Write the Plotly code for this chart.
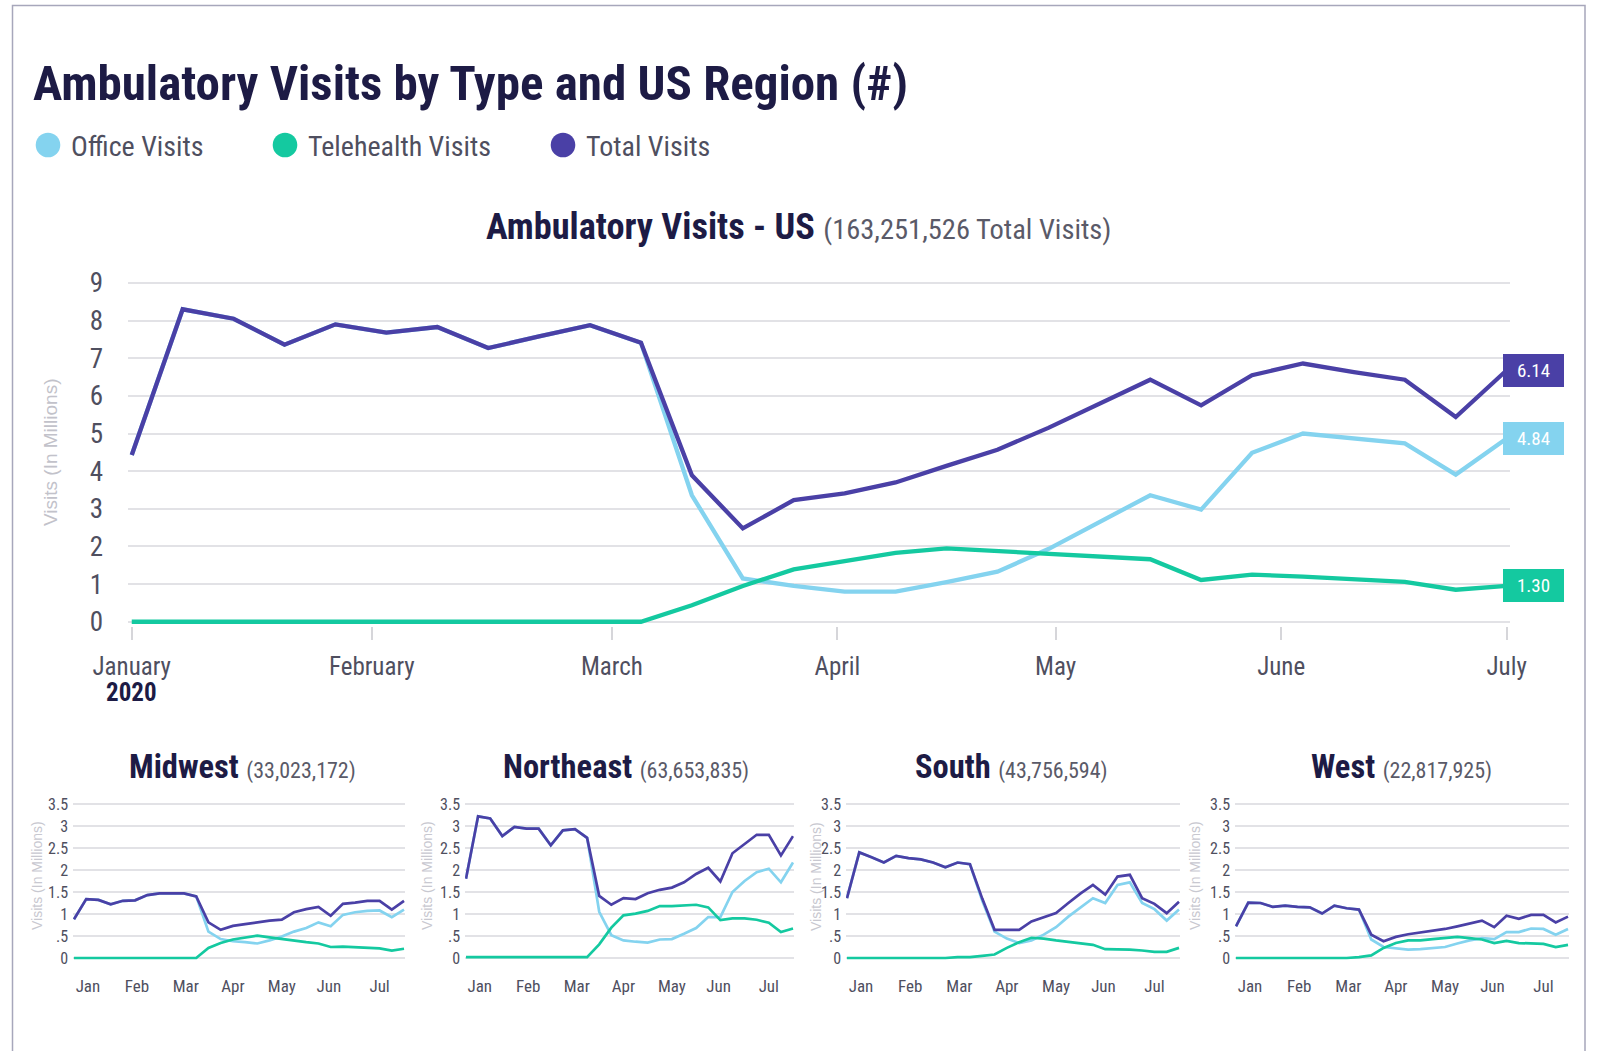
import plotly.graph_objects as go

# ---------------- data ----------------
WEEKS = ["2019-12-29", "2020-01-05", "2020-01-12", "2020-01-19", "2020-01-26",
         "2020-02-02", "2020-02-09", "2020-02-16", "2020-02-23", "2020-03-01",
         "2020-03-08", "2020-03-15", "2020-03-22", "2020-03-29", "2020-04-05",
         "2020-04-12", "2020-04-19", "2020-04-26", "2020-05-03", "2020-05-10",
         "2020-05-17", "2020-05-24", "2020-05-31", "2020-06-07", "2020-06-14",
         "2020-06-21", "2020-06-28", "2020-07-05"]

US_TOTAL = [4.43, 8.30, 8.05, 7.36, 7.90, 7.68, 7.83, 7.27, 7.58, 7.88, 7.41, 3.89, 2.48, 3.23,
            3.41, 3.70, 4.14, 4.57, 5.15, 5.79, 6.43, 5.75, 6.55, 6.86, 6.63, 6.43, 5.44, 6.68]
US_OFFICE = [4.43, 8.30, 8.05, 7.36, 7.90, 7.68, 7.83, 7.27, 7.58, 7.88, 7.41, 3.36, 1.15, 0.95,
             0.80, 0.80, 1.05, 1.33, 1.93, 2.64, 3.36, 2.98, 4.49, 5.00, 4.86, 4.74, 3.91, 4.87]
US_TELE = [0, 0, 0, 0, 0, 0, 0, 0, 0, 0, 0, 0.44, 0.95, 1.39,
           1.61, 1.83, 1.95, 1.88, 1.80, 1.74, 1.66, 1.11, 1.25, 1.20, 1.13, 1.06, 0.85, 0.95]
US_END_LABELS = ["6.14", "4.84", "1.30"]

REGIONS = ["Midwest", "Northeast", "South", "West"]
REGION_COUNTS = ["(33,023,172)", "(63,653,835)", "(43,756,594)", "(22,817,925)"]

MW_TOTAL = [0.88, 1.34, 1.32, 1.22, 1.30, 1.31, 1.43, 1.47, 1.47, 1.47, 1.40, 0.81, 0.64, 0.73,
            0.77, 0.81, 0.85, 0.87, 1.04, 1.11, 1.16, 0.96, 1.23, 1.26, 1.30, 1.30, 1.10, 1.30]
MW_OFFICE = [0.88, 1.34, 1.32, 1.22, 1.30, 1.31, 1.43, 1.47, 1.47, 1.47, 1.40, 0.60, 0.43, 0.38,
             0.36, 0.33, 0.40, 0.49, 0.60, 0.68, 0.81, 0.72, 0.98, 1.04, 1.07, 1.08, 0.93, 1.10]
MW_TELE = [0, 0, 0, 0, 0, 0, 0, 0, 0, 0, 0, 0.23, 0.34, 0.42,
           0.46, 0.51, 0.47, 0.43, 0.39, 0.36, 0.33, 0.25, 0.26, 0.25, 0.23, 0.22, 0.17, 0.21]

NE_TOTAL = [1.80, 3.22, 3.17, 2.77, 2.98, 2.94, 2.94, 2.56, 2.90, 2.93, 2.73, 1.41, 1.21, 1.36,
            1.34, 1.47, 1.55, 1.60, 1.72, 1.91, 2.05, 1.74, 2.38, 2.60, 2.80, 2.80, 2.33, 2.77]
NE_OFFICE = [1.80, 3.22, 3.17, 2.77, 2.98, 2.94, 2.94, 2.56, 2.90, 2.93, 2.73, 1.05, 0.52, 0.40,
             0.37, 0.35, 0.42, 0.43, 0.55, 0.68, 0.93, 0.93, 1.50, 1.75, 1.95, 2.03, 1.72, 2.17]
NE_TELE = [0.02, 0.02, 0.02, 0.02, 0.02, 0.02, 0.02, 0.02, 0.02, 0.02, 0.02, 0.31, 0.69, 0.97,
           1.01, 1.07, 1.18, 1.18, 1.20, 1.21, 1.15, 0.86, 0.90, 0.90, 0.87, 0.80, 0.59, 0.67]

SO_TOTAL = [1.36, 2.40, 2.29, 2.17, 2.32, 2.27, 2.24, 2.17, 2.06, 2.17, 2.13, 1.35, 0.64, 0.64,
            0.64, 0.83, 0.93, 1.02, 1.25, 1.47, 1.66, 1.44, 1.85, 1.89, 1.36, 1.23, 1.02, 1.28]
SO_OFFICE = [1.36, 2.40, 2.29, 2.17, 2.32, 2.27, 2.24, 2.17, 2.06, 2.17, 2.13, 1.30, 0.60, 0.44,
             0.34, 0.40, 0.53, 0.70, 0.94, 1.16, 1.36, 1.25, 1.66, 1.72, 1.25, 1.11, 0.85, 1.10]
SO_TELE = [0, 0, 0, 0, 0, 0, 0, 0, 0, 0.02, 0.02, 0.05, 0.08, 0.23,
           0.36, 0.46, 0.44, 0.40, 0.37, 0.34, 0.30, 0.20, 0.20, 0.19, 0.17, 0.14, 0.14, 0.23]

WE_TOTAL = [0.72, 1.26, 1.25, 1.16, 1.19, 1.16, 1.15, 1.01, 1.19, 1.13, 1.10, 0.53, 0.38, 0.48,
            0.54, 0.58, 0.62, 0.66, 0.72, 0.79, 0.85, 0.70, 0.96, 0.89, 0.98, 0.98, 0.81, 0.94]
WE_OFFICE = [0.72, 1.26, 1.25, 1.16, 1.19, 1.16, 1.15, 1.01, 1.19, 1.13, 1.10, 0.42, 0.25, 0.22,
             0.19, 0.20, 0.23, 0.25, 0.33, 0.40, 0.45, 0.43, 0.59, 0.59, 0.67, 0.66, 0.53, 0.66]
WE_TELE = [0, 0, 0, 0, 0, 0, 0, 0, 0, 0, 0.02, 0.06, 0.23, 0.34,
           0.40, 0.40, 0.43, 0.45, 0.48, 0.45, 0.42, 0.34, 0.39, 0.34, 0.33, 0.32, 0.25, 0.30]

MAIN_TICK_DATES = ["2019-12-29", "2020-01-31", "2020-03-04", "2020-04-04",
                   "2020-05-04", "2020-06-04", "2020-07-05"]
MAIN_TICK_TEXT = ["January", "February", "March", "April", "May", "June", "July"]
SMALL_TICK_DATES = ["2020-01-06", "2020-02-03", "2020-03-02", "2020-03-29",
                    "2020-04-26", "2020-05-23", "2020-06-21"]
SMALL_TICK_TEXT = ["Jan", "Feb", "Mar", "Apr", "May", "Jun", "Jul"]
MAIN_Y_TICKS = [0, 1, 2, 3, 4, 5, 6, 7, 8, 9]
SMALL_Y_TICKS = [0, 0.5, 1, 1.5, 2, 2.5, 3, 3.5]
SMALL_Y_TEXT = ["0", ".5", "1", "1.5", "2", "2.5", "3", "3.5"]

SERIES_NAMES = ["Office Visits", "Telehealth Visits", "Total Visits"]

# ---------------- style ----------------
W, H = 1598, 1051
C_OFFICE = "#84d3ef"
C_TELE = "#14c9a0"
C_TOTAL = "#4a40a6"
C_NAVY = "#1d1b45"
C_TEXT = "#4f4f5f"
C_GRID = "#e2e2e6"
FONT = "Liberation Sans Narrow, Roboto Condensed, Arial Narrow, DejaVu Sans Condensed, Roboto, sans-serif"
FONT_REG = "Liberation Sans, Arial, Roboto, sans-serif"
COLORS = [C_OFFICE, C_TELE, C_TOTAL]


def px_x(x):
    return x / W


def px_y(y):
    return 1 - y / H


X_RANGE = ["2019-12-28 12:00", "2020-07-05 12:00"]

fig = go.Figure()

# main chart
for name, vals, col in zip(SERIES_NAMES, [US_OFFICE, US_TELE, US_TOTAL], COLORS):
    fig.add_trace(go.Scatter(x=WEEKS, y=vals, name=name, mode="lines",
                             line=dict(color=col, width=4.3), xaxis="x", yaxis="y",
                             hoverinfo="skip"))

# small multiples
region_data = [(MW_OFFICE, MW_TELE, MW_TOTAL), (NE_OFFICE, NE_TELE, NE_TOTAL),
               (SO_OFFICE, SO_TELE, SO_TOTAL), (WE_OFFICE, WE_TELE, WE_TOTAL)]
for i, series in enumerate(region_data):
    ax = str(i + 2)
    for name, vals, col in zip(SERIES_NAMES, series, COLORS):
        fig.add_trace(go.Scatter(x=WEEKS, y=vals, name=name, mode="lines",
                                 line=dict(color=col, width=2.7), xaxis="x" + ax,
                                 yaxis="y" + ax, hoverinfo="skip", showlegend=False))

layout = dict(
    width=W, height=H, margin=dict(l=0, r=0, t=0, b=0, autoexpand=False),
    paper_bgcolor="white", plot_bgcolor="white", showlegend=False,
    xaxis=dict(type="date", range=X_RANGE, domain=[px_x(128.1), px_x(1510.3)],
               tickmode="array", tickvals=MAIN_TICK_DATES, ticktext=MAIN_TICK_TEXT,
               ticks="outside", ticklen=13, tickwidth=2, tickcolor="#d6d6da",
               showgrid=False, zeroline=False, showline=False, automargin=False,
               tickfont=dict(family=FONT, size=25, color=C_TEXT),
               ticklabelstandoff=5, anchor="y", fixedrange=True),
    yaxis=dict(range=[-0.1, 9.1], domain=[px_y(625.5), px_y(279.2)],
               tickmode="array", tickvals=MAIN_Y_TICKS, showgrid=True,
               gridcolor=C_GRID, gridwidth=2, zeroline=False, showline=False,
               automargin=False,
               tickfont=dict(family=FONT, size=27, color=C_TEXT),
               ticklabelstandoff=24, anchor="x", fixedrange=True),
)

small_x = [(74, 404), (466, 793), (847, 1179), (1236, 1568)]
for i, (x0, x1) in enumerate(small_x):
    ax = str(i + 2)
    layout["xaxis" + ax] = dict(type="date", range=X_RANGE,
                                domain=[px_x(x0 - 0.9), px_x(x1 + 0.9)],
                                tickmode="array", tickvals=SMALL_TICK_DATES,
                                ticktext=SMALL_TICK_TEXT, ticks="", showgrid=False,
                                zeroline=False, showline=False, automargin=False,
                                tickfont=dict(family=FONT, size=17, color=C_TEXT),
                                ticklabelstandoff=14, anchor="y" + ax, fixedrange=True)
    layout["yaxis" + ax] = dict(range=[-0.05, 3.55], domain=[px_y(960.2), px_y(801.8)],
                                tickmode="array", tickvals=SMALL_Y_TICKS,
                                ticktext=SMALL_Y_TEXT, showgrid=True, gridcolor=C_GRID,
                                gridwidth=1.5, zeroline=False, showline=False,
                                automargin=False,
                                tickfont=dict(family=FONT, size=16, color=C_TEXT),
                                ticklabelstandoff=4, anchor="x" + ax, fixedrange=True)

fig.update_layout(**layout)

ann = []
# main title
ann.append(dict(text="<b>Ambulatory Visits by Type and US Region (#)</b>", x=px_x(31),
                y=px_y(84), xref="paper", yref="paper", xanchor="left", yanchor="middle",
                showarrow=False, font=dict(family=FONT, size=49, color=C_NAVY)))

# custom legend
shapes = []
legend_pos = [(48, 69), (285, 306), (563, 584)]
for (cx, tx), name, col in zip(legend_pos, SERIES_NAMES, COLORS):
    r = 12.3
    shapes.append(dict(type="circle", xref="paper", yref="paper",
                       x0=px_x(cx - r), x1=px_x(cx + r), y0=px_y(145 + r), y1=px_y(145 - r),
                       fillcolor=col, line=dict(width=0)))
    ann.append(dict(text=name, x=px_x(tx), y=px_y(146), xref="paper", yref="paper",
                    xanchor="left", yanchor="middle", showarrow=False,
                    font=dict(family=FONT, size=28, color=C_TEXT)))

# main subtitle
ann.append(dict(text="<b>Ambulatory Visits - US</b> <span style='font-size:28.5px;color:#5a5a68'>"
                     "(163,251,526 Total Visits)</span>",
                x=px_x(798), y=px_y(227), xref="paper", yref="paper", xanchor="center",
                yanchor="middle", showarrow=False,
                font=dict(family=FONT, size=36.3, color=C_NAVY)))

# y-axis title (main)
ann.append(dict(text="Visits (In Millions)", x=px_x(51), y=px_y(452), xref="paper",
                yref="paper", textangle=-90, showarrow=False, xanchor="center",
                yanchor="middle", font=dict(family=FONT_REG, size=19, color="#c2c2ca")))

# "2020" under January
ann.append(dict(text="<b>2020</b>", x=WEEKS[0], y=px_y(692), xref="x", yref="paper",
                xanchor="center", yanchor="middle", showarrow=False,
                font=dict(family=FONT, size=25, color=C_NAVY)))

# end-value pills
for vals, label, col in zip([US_TOTAL, US_OFFICE, US_TELE], US_END_LABELS,
                            [C_TOTAL, C_OFFICE, C_TELE]):
    ann.append(dict(text=label, x=WEEKS[-1], y=vals[-1], xref="x", yref="y",
                    xanchor="left", yanchor="middle", xshift=-4, showarrow=False,
                    bgcolor=col, bordercolor=col, borderwidth=1, borderpad=4,
                    width=51, height=23, align="center",
                    font=dict(family=FONT, size=19, color="white")))

# small chart titles and y titles
title_cx = [242, 626, 1011, 1401]
ytitle_x = [37, 427, 816, 1195]
for i, (name, cnt) in enumerate(zip(REGIONS, REGION_COUNTS)):
    ann.append(dict(text="<b>" + name + "</b> <span style='font-size:22px;color:#5a5a68'>"
                         + cnt + "</span>",
                    x=px_x(title_cx[i]), y=px_y(767), xref="paper", yref="paper",
                    xanchor="center", yanchor="middle", showarrow=False,
                    font=dict(family=FONT, size=32.5, color=C_NAVY)))
    ann.append(dict(text="Visits (In Millions)", x=px_x(ytitle_x[i]), y=px_y(876),
                    xref="paper", yref="paper", textangle=-90, showarrow=False,
                    xanchor="center", yanchor="middle",
                    font=dict(family=FONT_REG, size=14, color="#c8c8d0")))

# outer frame
shapes.append(dict(type="rect", xref="paper", yref="paper", x0=px_x(12.5), x1=px_x(1585),
                   y0=px_y(1080), y1=px_y(5.5), line=dict(color="#a7a7bb", width=1.5),
                   fillcolor="rgba(0,0,0,0)", layer="below"))

fig.update_layout(annotations=ann, shapes=shapes)
fig.write_html("out.html", config={"displayModeBar": False},
               post_script="document.body.style.margin='0px';"
                           "document.body.style.overflow='hidden';")
